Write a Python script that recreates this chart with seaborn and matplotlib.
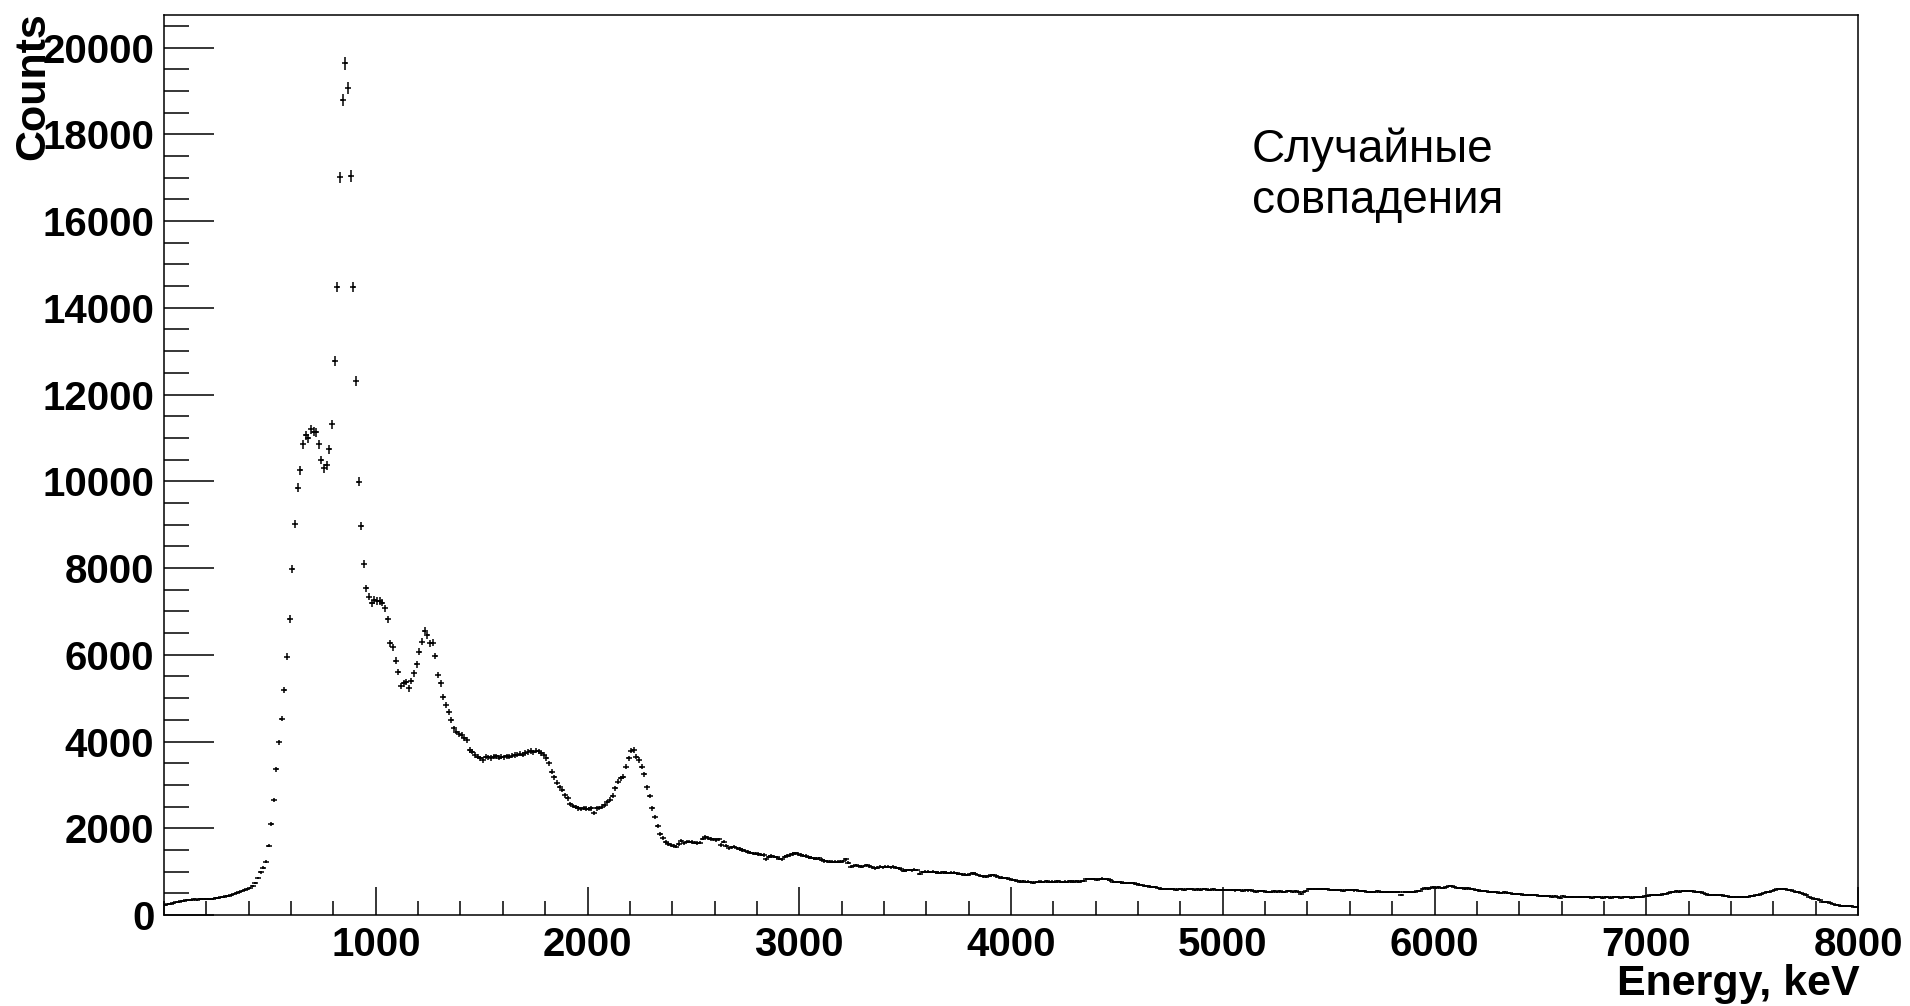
import numpy as np
import pandas as pd
import matplotlib
matplotlib.use("Agg")
import matplotlib.pyplot as plt
from matplotlib.ticker import MultipleLocator
import seaborn as sns

# Histogram binning (keV)
BIN_WIDTH = 12.5
E_MIN, E_MAX = 0.0, 8000.0

# Counts per 12.5 keV bin, 20 bins (250 keV) per row
counts_0_1000 = [
    240, 250, 262, 275, 290, 300, 315, 325, 338, 335, 345, 360, 352, 368, 380, 375, 365, 360, 372, 385,
    395, 405, 420, 430, 445, 460, 480, 505, 530, 555, 575, 600, 630, 670, 740, 850, 980, 1090, 1230, 1600,
    2100, 2650, 3365, 3980, 4530, 5186, 5954, 6823, 7975, 9012, 9850, 10257, 10850, 11064, 10987, 11195, 11140, 11125, 10850, 10490,
    10297, 10373, 10734, 11310, 12770, 14483, 17004, 18786, 19632, 19078, 17041, 14483, 12316, 9988, 8966, 8084, 7530, 7337, 7185, 7261,
]
counts_1000_2500 = [
    7238, 7238, 7200, 7070, 6816, 6263, 6170, 5862, 5608, 5278, 5340, 5378, 5225, 5401, 5571, 5779, 6069, 6300, 6553, 6454,
    6263, 6277, 5970, 5532, 5340, 5018, 4850, 4686, 4500, 4303, 4230, 4180, 4149, 4073, 4034, 3803, 3764, 3688, 3649, 3612,
    3573, 3650, 3640, 3620, 3650, 3660, 3630, 3650, 3640, 3660, 3650, 3670, 3690, 3700, 3720, 3700, 3740, 3760, 3780, 3750,
    3790, 3770, 3730, 3700, 3620, 3496, 3300, 3174, 3050, 2950, 2881, 2760, 2690, 2558, 2520, 2496, 2458, 2450, 2460, 2455,
    2450, 2458, 2344, 2458, 2470, 2500, 2535, 2600, 2660, 2750, 2920, 3073, 3150, 3188, 3418, 3612, 3787, 3803, 3649, 3573,
    3420, 3250, 2943, 2743, 2458, 2266, 2051, 1867, 1768, 1680, 1637, 1614, 1598, 1575, 1640, 1713, 1652, 1690, 1690, 1680,
]
counts_2500_5000 = [
    1667, 1660, 1667, 1760, 1805, 1768, 1750, 1744, 1730, 1744, 1614, 1690, 1600, 1537, 1560, 1575, 1537, 1520, 1498, 1480,
    1460, 1440, 1421, 1415, 1406, 1390, 1383, 1283, 1340, 1360, 1340, 1329, 1300, 1283, 1345, 1365, 1383, 1405, 1421, 1406,
    1390, 1370, 1360, 1329, 1320, 1306, 1300, 1306, 1270, 1245, 1235, 1229, 1225, 1229, 1232, 1229, 1240, 1283, 1206, 1114,
    1130, 1153, 1130, 1114, 1130, 1153, 1120, 1100, 1076, 1095, 1114, 1105, 1114, 1114, 1100, 1114, 1095, 1076, 1050, 1021,
    1030, 1037, 1030, 1040, 1037, 945, 990, 998, 998, 990, 998, 985, 975, 975, 980, 975, 970, 975, 975, 960,
    945, 940, 930, 922, 940, 961, 950, 920, 899, 890, 883, 900, 915, 922, 890, 868, 860, 850, 845, 830,
    807, 800, 780, 768, 775, 760, 768, 755, 745, 760, 768, 770, 760, 775, 765, 770, 760, 775, 770, 765,
    772, 768, 775, 770, 780, 770, 775, 790, 835, 830, 825, 835, 815, 830, 840, 830, 820, 800, 770, 765,
    760, 750, 745, 740, 745, 735, 730, 720, 700, 690, 670, 660, 655, 650, 640, 630, 610, 600, 595, 590,
    600, 590, 585, 595, 590, 580, 595, 600, 590, 585, 592, 580, 590, 595, 585, 580, 590, 575, 585, 580,
]
counts_5000_8000 = [
    576, 580, 570, 575, 565, 570, 575, 560, 570, 565, 575, 560, 540, 555, 545, 560, 540, 530, 520, 545,
    530, 550, 525, 540, 560, 545, 535, 550, 520, 490, 540, 560, 590, 600, 598, 600, 595, 600, 590, 605,
    580, 575, 570, 580, 575, 560, 580, 570, 575, 565, 570, 560, 555, 545, 540, 535, 540, 530, 545, 535,
    540, 530, 535, 525, 540, 530, 520, 470, 525, 535, 530, 540, 535, 545, 560, 600, 620, 610, 630, 640,
    625, 640, 630, 615, 640, 668, 660, 640, 625, 615, 620, 610, 615, 605, 590, 570, 565, 560, 560, 555,
    540, 530, 525, 520, 515, 510, 520, 505, 500, 490, 495, 485, 480, 470, 465, 470, 455, 460, 450, 445,
    440, 445, 430, 440, 420, 435, 425, 400, 430, 420, 425, 410, 420, 405, 415, 410, 420, 405, 410, 400,
    410, 405, 415, 400, 410, 405, 395, 410, 405, 415, 400, 410, 405, 420, 400, 410, 405, 415, 420, 430,
    440, 450, 460, 455, 465, 470, 480, 490, 500, 520, 530, 545, 540, 555, 550, 560, 545, 555, 540, 530,
    520, 500, 480, 470, 460, 465, 455, 450, 460, 440, 430, 420, 415, 410, 420, 405, 410, 415, 420, 430,
    440, 455, 470, 485, 500, 520, 540, 560, 575, 590, 600, 595, 590, 580, 570, 555, 540, 525, 505, 480,
    450, 420, 395, 380, 360, 335, 310, 300, 290, 270, 250, 235, 225, 215, 210, 205, 200, 200, 195, 190,
]

x_major_ticks = [1000, 2000, 3000, 4000, 5000, 6000, 7000, 8000]
y_major_ticks = [0, 2000, 4000, 6000, 8000, 10000, 12000, 14000, 16000, 18000, 20000]
x_title = "Energy, keV"
y_title = "Counts"
note_lines = ["Случайные", "совпадения"]

counts = np.array(counts_0_1000 + counts_1000_2500 + counts_2500_5000 + counts_5000_8000, dtype=float)
centers = E_MIN + BIN_WIDTH * (np.arange(len(counts)) + 0.5)
spectrum = pd.DataFrame({"energy": centers, "counts": counts, "err": np.sqrt(counts)})

sns.set_theme(style="white")
plt.rcParams["font.family"] = ["Liberation Sans", "DejaVu Sans"]

W, H = 1910, 1006
fig = plt.figure(figsize=(W / 100, H / 100), dpi=100)
fig.patch.set_facecolor("white")
ax_left, ax_right, ax_top, ax_bottom = 164, 1858, 15, 915
ax = fig.add_axes([ax_left / W, 1 - ax_bottom / H, (ax_right - ax_left) / W, (ax_bottom - ax_top) / H])
ax.set_facecolor("white")

# bin-width horizontal bars and sqrt(N) vertical bars
ax.errorbar(spectrum["energy"], spectrum["counts"], xerr=BIN_WIDTH / 2, yerr=spectrum["err"],
            fmt="none", ecolor="black", elinewidth=1.1, capsize=0)
# short horizontal stroke at each bin centre
sns.scatterplot(data=spectrum, x="energy", y="counts", ax=ax, marker="_", s=14,
                color="black", linewidth=1.1, legend=False)

ax.set_xlim(E_MIN, E_MAX)
ax.set_ylim(0, 20750)
ax.set_xlabel("")
ax.set_ylabel("")

ax.set_xticks(x_major_ticks, labels=[str(v) for v in x_major_ticks], fontsize=29, fontweight="bold")
ax.set_yticks(y_major_ticks, labels=[str(v) for v in y_major_ticks], fontsize=29, fontweight="bold")
ax.xaxis.set_minor_locator(MultipleLocator(200))
ax.yaxis.set_minor_locator(MultipleLocator(500))
ax.tick_params(axis="x", which="major", direction="in", length=20, width=1.1, color="black",
               bottom=True, top=False, pad=8, labelcolor="black")
ax.tick_params(axis="x", which="minor", direction="in", length=10, width=1.1, color="black",
               bottom=True, top=False)
ax.tick_params(axis="y", which="major", direction="in", length=36, width=1.1, color="black",
               left=True, right=False, pad=7, labelcolor="black")
ax.tick_params(axis="y", which="minor", direction="in", length=18, width=1.1, color="black",
               left=True, right=False)
for side in ["left", "right", "top", "bottom"]:
    ax.spines[side].set_visible(True)
    ax.spines[side].set_color("black")
    ax.spines[side].set_linewidth(1.1)

fig.text(33 / W, 1 - 12 / H, y_title, rotation=90, ha="center", va="top",
         fontsize=31, fontweight="bold", color="black")
fig.text(1860 / W, 1 - 995 / H, x_title, ha="right", va="baseline",
         fontsize=31, fontweight="bold", color="black")

fig.text(1252 / W, 1 - 162 / H, note_lines[0], ha="left", va="baseline", fontsize=33, color="black")
fig.text(1252 / W, 1 - 213 / H, note_lines[1], ha="left", va="baseline", fontsize=33, color="black")

fig.savefig("out.png", dpi=100, facecolor="white")
